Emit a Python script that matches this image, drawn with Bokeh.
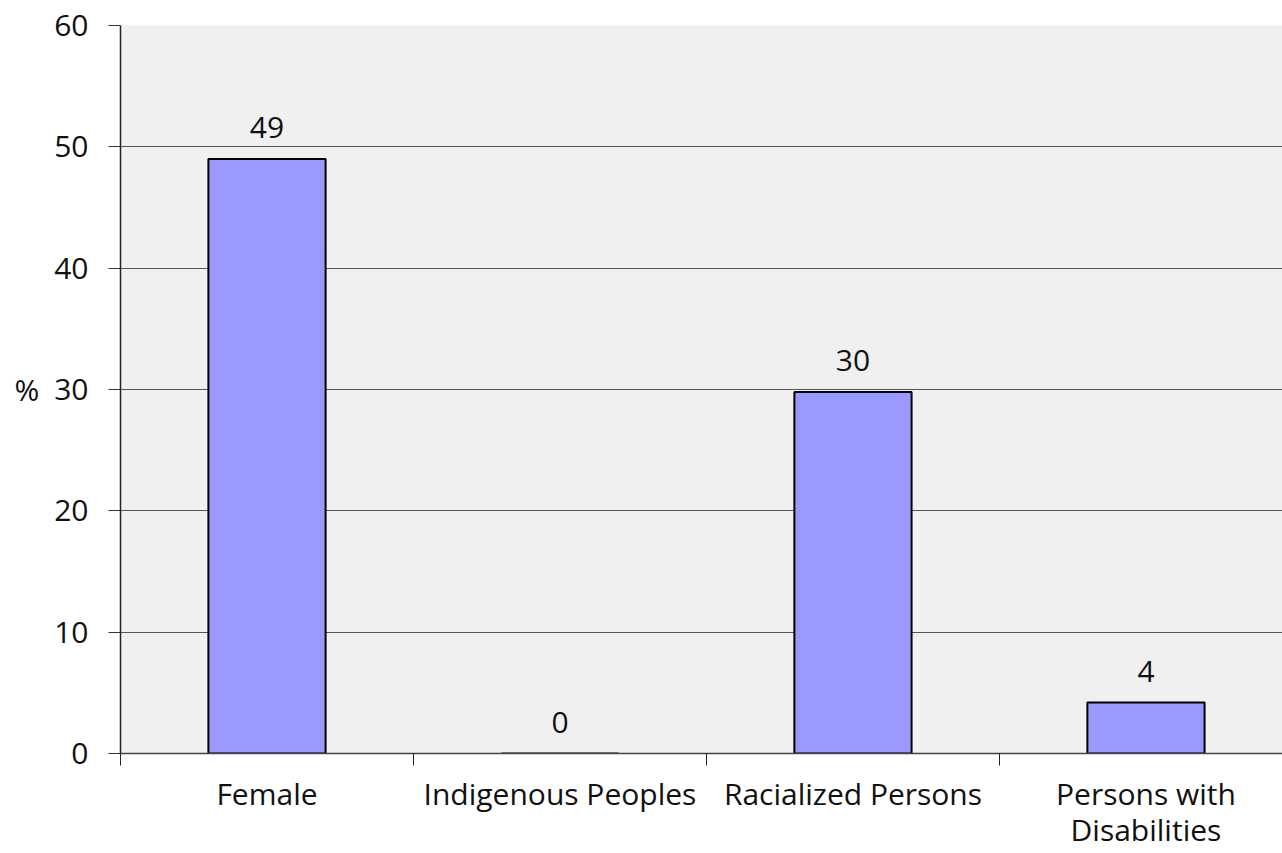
from bokeh.plotting import figure
from bokeh.models import FixedTicker, Range1d, ColumnDataSource
from bokeh.core.properties import value
from bokeh.embed import file_html
from bokeh.resources import INLINE

categories = ["Female", "Indigenous Peoples", "Racialized Persons", "Persons with\nDisabilities"]
values = [49.0, 0.0, 29.8, 4.2]
value_labels = ["49", "0", "30", "4"]
y_ticks = [0, 10, 20, 30, 40, 50, 60]

FONT = "Open Sans"
FS = "30px"

xs = [i + 0.5 for i in range(len(categories))]
src = ColumnDataSource(dict(x=xs, top=values, label=value_labels))

p = figure(width=1282, height=853, output_backend="svg", toolbar_location=None,
           x_range=Range1d(0, 3.966), y_range=Range1d(0, 60),
           min_border_left=120, min_border_right=0, min_border_top=25, min_border_bottom=100)
p.border_fill_color = "white"
p.outline_line_color = None
p.background_fill_color = "#f0f0f0"

p.vbar(x="x", top="top", width=0.4, bottom=0, source=src,
       fill_color="#9999ff", line_color="black", line_width=2)
p.text(x="x", y="top", text="label", source=src, text_align="center",
       text_baseline="middle", y_offset=-31, text_font=value(FONT),
       text_font_size=FS, text_color="#111111")

# y axis
p.yaxis.ticker = FixedTicker(ticks=y_ticks)
p.yaxis.major_label_text_font = FONT
p.yaxis.major_label_text_font_size = FS
p.yaxis.major_label_text_color = "#111111"
p.yaxis.axis_line_color = "#222222"
p.yaxis.axis_line_width = 1.5
p.yaxis.major_tick_line_color = "#333333"
p.yaxis.major_tick_in = 0
p.yaxis.major_tick_out = 12
p.yaxis.minor_tick_line_color = None
p.yaxis.major_label_standoff = 20
p.yaxis.axis_label = "%"
p.yaxis.axis_label_text_font = FONT
p.yaxis.axis_label_text_font_size = FS
p.yaxis.axis_label_text_font_style = "normal"
p.yaxis.axis_label_text_color = "#111111"
p.yaxis.axis_label_standoff = 12
try:
    p.yaxis.axis_label_orientation = "horizontal"
except Exception:
    pass

# x axis
p.xaxis.ticker = FixedTicker(ticks=xs, minor_ticks=[0, 1, 2, 3, 4])
p.xaxis.major_label_overrides = {x: c for x, c in zip(xs, categories)}
p.xaxis.major_label_text_font = FONT
p.xaxis.major_label_text_font_size = FS
p.xaxis.major_label_text_color = "#111111"
p.xaxis.major_label_text_line_height = 0.9
p.xaxis.major_tick_line_color = None
p.xaxis.minor_tick_line_color = "#222222"
p.xaxis.minor_tick_in = 0
p.xaxis.minor_tick_out = 12
p.xaxis.axis_line_color = "#444444"
p.xaxis.axis_line_width = 1.5
p.xaxis.major_label_standoff = 7

p.xgrid.grid_line_color = None
p.ygrid.ticker = FixedTicker(ticks=y_ticks)
p.ygrid.grid_line_color = "#555555"
p.ygrid.grid_line_width = 1

open("out.html", "w").write(file_html(p, INLINE))
